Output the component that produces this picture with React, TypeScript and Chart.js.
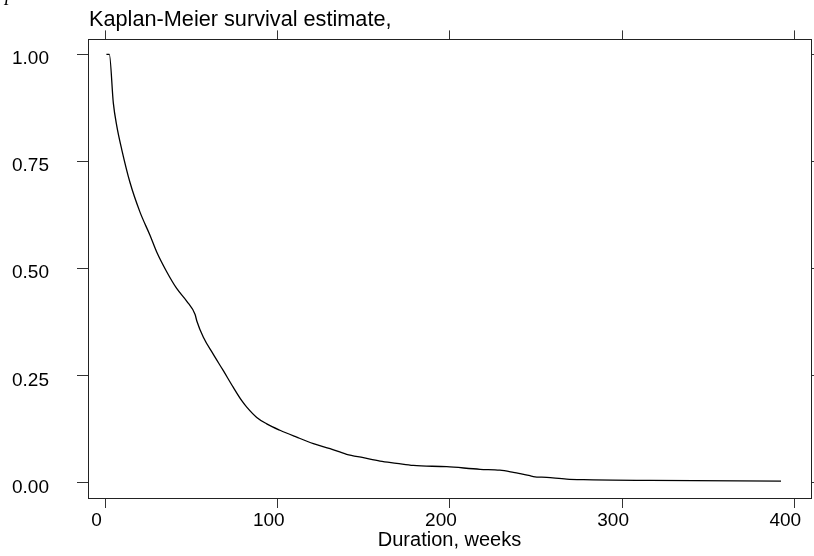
import React, { useEffect, useRef } from 'react';
import { Chart, registerables } from 'chart.js';

Chart.register(...registerables);

// Kaplan-Meier curve
const weeks = [
  0.5, 2.2, 4.5, 6.5, 9.4, 14.2, 20, 25.8, 29.7, 35.5, 41.3, 47.2, 52, 53, 56.8,
  62.6, 68.4, 74.2, 79.1, 82, 87.8, 93.6, 101.3, 111, 120.7, 130.4, 140, 149.7,
  159.4, 169.1, 178.7, 198.1, 217.5, 229, 236.8, 240.7, 246.5, 248.4, 256.2,
  267.8, 277.5, 316.2, 392.3,
];
const survival = [
  1.0, 1.0, 0.887, 0.833, 0.778, 0.701, 0.632, 0.578, 0.539, 0.493, 0.454, 0.424,
  0.393, 0.378, 0.34, 0.3, 0.262, 0.223, 0.192, 0.177, 0.153, 0.138, 0.123, 0.107,
  0.092, 0.08, 0.067, 0.059, 0.051, 0.046, 0.041, 0.038, 0.032, 0.03, 0.025, 0.022,
  0.017, 0.015, 0.013, 0.009, 0.0077, 0.006, 0.0046,
];

const xTickValues = [0, 100, 200, 300, 400];
const xTickLabels = ['0', '100', '200', '300', '400'];
const yTickValues = [0, 0.25, 0.5, 0.75, 1];
const yTickLabels = ['0.00', '0.25', '0.50', '0.75', '1.00'];
const titleText = 'Kaplan-Meier survival estimate,';
const xAxisTitle = 'Duration, weeks';

const FAMILY = '"Liberation Sans", Arial, Helvetica, sans-serif';

export default function App() {
  const ref = useRef<HTMLCanvasElement>(null);

  useEffect(() => {
    const canvas = ref.current;
    if (!canvas) return;

    const xMin = -10.2;
    const xMax = 409.7;
    const yMin = -0.035;
    const yMax = 1.035;

    const gridCommon = (len: number) => ({
      drawOnChartArea: false,
      drawTicks: true,
      tickLength: len,
      color: '#333',
      lineWidth: 1,
    });
    const borderCommon = { display: true, color: '#222', width: 1 };

    const titlePlugin = {
      id: 'kmTitle',
      afterDraw(chart: any) {
        const ctx = chart.ctx;
        ctx.save();
        ctx.fillStyle = '#000';
        ctx.textBaseline = 'alphabetic';
        ctx.textAlign = 'left';
        ctx.font = `21.7px ${FAMILY}`;
        ctx.fillText(titleText, chart.chartArea.left + 1, 26);
        ctx.font = 'italic 20px "Liberation Serif", serif';
        ctx.fillText('p', 5, -0.5);
        ctx.restore();
      },
    };

    const chart = new Chart(canvas, {
      type: 'line',
      data: {
        datasets: [
          {
            data: weeks.map((w, i) => ({ x: w, y: survival[i] })),
            borderColor: '#000',
            borderWidth: 1.3,
            pointRadius: 0,
            cubicInterpolationMode: 'monotone',
            fill: false,
          },
        ],
      },
      options: {
        responsive: false,
        animation: false,
        devicePixelRatio: 1,
        layout: { padding: { top: 26, left: 0, right: 0, bottom: 0 } },
        plugins: {
          legend: { display: false },
          tooltip: { enabled: false },
          title: { display: false },
        },
        scales: {
          x: {
            type: 'linear',
            position: 'bottom',
            min: xMin,
            max: xMax,
            afterBuildTicks: (s: any) => {
              s.ticks = xTickValues.map((v) => ({ value: v }));
            },
            afterFit: (s: any) => {
              s.height = 58;
            },
            grid: gridCommon(10),
            border: borderCommon,
            ticks: {
              callback: (_v: any, i: number) => xTickLabels[i],
              font: { family: FAMILY, size: 19 },
              color: '#000',
              padding: 1,
              labelOffset: -9,
              maxRotation: 0,
              autoSkip: false,
            },
            title: {
              display: true,
              text: xAxisTitle,
              font: { family: FAMILY, size: 20 },
              color: '#000',
              padding: { top: 0, bottom: 4 },
            },
          },
          x2: {
            type: 'linear',
            position: 'top',
            min: xMin,
            max: xMax,
            afterBuildTicks: (s: any) => {
              s.ticks = xTickValues.map((v) => ({ value: v }));
            },
            afterFit: (s: any) => {
              s.height = 10;
            },
            grid: gridCommon(9),
            border: borderCommon,
            ticks: { display: false },
          },
          y: {
            type: 'linear',
            position: 'left',
            min: yMin,
            max: yMax,
            afterBuildTicks: (s: any) => {
              s.ticks = yTickValues.map((v) => ({ value: v }));
            },
            afterFit: (s: any) => {
              s.width = 88;
            },
            grid: gridCommon(11),
            border: borderCommon,
            ticks: {
              callback: (_v: any, i: number) => yTickLabels[i],
              font: { family: FAMILY, size: 19 },
              color: '#000',
              padding: 28,
              labelOffset: 4.5,
              autoSkip: false,
            },
          },
          y2: {
            type: 'linear',
            position: 'right',
            min: yMin,
            max: yMax,
            afterBuildTicks: (s: any) => {
              s.ticks = yTickValues.map((v) => ({ value: v }));
            },
            afterFit: (s: any) => {
              s.width = 3;
            },
            grid: gridCommon(10),
            border: borderCommon,
            ticks: { display: false },
          },
        },
      } as any,
      plugins: [titlePlugin],
    });

    return () => chart.destroy();
  }, []);

  return (
    <div
      style={{
        position: 'fixed',
        left: 0,
        top: 0,
        width: 814,
        height: 556,
        background: '#fff',
      }}
    >
      <canvas ref={ref} width={814} height={556} style={{ display: 'block' }} />
    </div>
  );
}
